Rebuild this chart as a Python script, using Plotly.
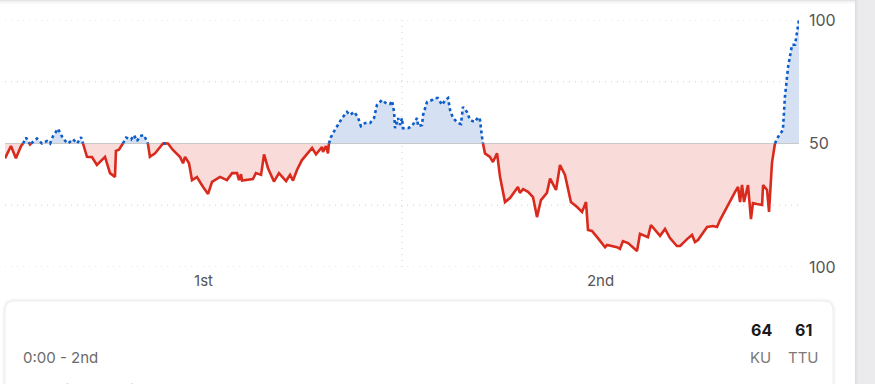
import plotly.graph_objects as go

# Game time (minutes elapsed) and KU win probability (%)
minutes = [0.00, 0.30, 0.55, 0.81, 0.91, 1.06, 1.26, 1.61, 1.86, 2.12, 2.27, 2.42, 2.67, 2.92, 3.17,
           3.43, 3.63, 3.83, 3.93, 4.13, 4.38, 4.63, 5.04, 5.29, 5.54, 5.59, 5.74, 5.94, 6.10, 6.35,
           6.50, 6.65, 6.80, 7.00, 7.20, 7.30, 7.56, 7.96, 8.21, 8.46, 8.82, 8.97, 9.07, 9.27, 9.42,
           9.67, 9.97, 10.23, 10.43, 10.83, 11.18, 11.44, 11.69, 11.79, 11.89, 11.94, 12.49, 12.64,
           12.90, 13.05, 13.25, 13.55, 13.80, 14.16, 14.36, 14.51, 14.71, 14.96, 15.47, 15.67, 15.97,
           16.02, 16.17, 16.27, 16.32, 16.42, 16.62, 16.98, 17.23, 17.38, 17.58, 17.78, 17.93, 18.14,
           18.39, 18.59, 18.74, 18.99, 19.24, 19.40, 19.50, 19.60, 19.65, 19.80, 19.90, 20.00, 20.05,
           20.30, 20.50, 20.65, 20.76, 20.81, 21.01, 21.06, 21.26, 21.51, 21.66, 21.81, 22.02, 22.17,
           22.32, 22.42, 22.57, 22.82, 22.97, 23.07, 23.27, 23.43, 23.68, 23.83, 23.93, 24.03, 24.08,
           24.18, 24.43, 24.58, 24.79, 24.94, 25.19, 25.44, 25.84, 25.94, 26.10, 26.35, 26.60, 26.80,
           27.00, 27.30, 27.46, 27.76, 27.96, 28.21, 28.51, 28.82, 29.07, 29.27, 29.37, 29.57, 29.87,
           30.23, 30.33, 30.63, 30.83, 30.98, 31.13, 31.39, 31.84, 31.99, 32.39, 32.54, 32.75, 33.00,
           33.25, 33.50, 33.85, 34.01, 34.36, 34.61, 34.76, 34.91, 35.37, 35.67, 35.87, 36.02, 36.78,
           36.93, 37.03, 37.13, 37.23, 37.43, 37.58, 37.68, 37.88, 38.14, 38.19, 38.39, 38.49, 38.64,
           38.79, 38.94, 39.19, 39.29, 39.45, 39.65, 39.80, 39.90, 40.00]
ku_prob = [44.0, 49.0, 44.0, 49.0, 50.0, 52.4, 49.6, 52.0, 50.0, 51.0, 50.0, 53.0, 56.0, 52.0, 50.0,
           51.7, 50.0, 52.6, 50.0, 44.6, 44.5, 41.3, 44.6, 38.0, 36.5, 47.0, 47.5, 50.0, 52.4, 51.6,
           53.4, 51.0, 53.0, 53.4, 50.0, 44.6, 46.0, 50.0, 50.0, 47.4, 44.5, 42.0, 44.6, 42.0, 35.2,
           36.4, 32.5, 29.6, 34.5, 36.5, 35.2, 38.0, 38.0, 35.2, 37.6, 35.0, 35.6, 38.0,
           37.3, 45.6, 40.0, 34.6, 38.0, 34.8, 37.3, 35.0, 39.3, 43.3, 48.2, 45.6, 48.6,
           46.6, 49.0, 46.0, 50.0, 52.6, 55.5, 60.3, 62.8, 61.5, 62.8, 60.7, 57.0, 58.3,
           58.3, 60.3, 65.6, 67.6, 66.0, 66.0, 67.3, 62.8, 56.2, 60.3, 57.5, 60.3, 56.2,
           56.2, 57.0, 58.7, 60.3, 57.0, 57.5, 61.5, 66.8, 67.6, 68.4, 68.4, 65.6, 67.6,
           68.4, 63.6, 60.3, 58.3, 57.9, 64.8, 62.8, 59.5, 58.7, 60.7, 59.5, 52.6, 50.0,
           46.0, 44.6, 42.5, 46.0, 36.4, 26.3, 27.9, 32.4, 30.0, 31.5, 30.4, 28.3, 20.2,
           27.1, 30.0, 35.8, 31.2, 41.3, 37.3, 26.3, 24.3, 22.3, 26.3, 15.0, 14.6, 11.7,
           8.0, 8.9, 8.5, 8.0, 7.3, 10.5, 9.7, 6.5, 13.4, 12.1, 17.0, 15.0, 12.6,
           15.4, 11.7, 8.5, 8.5, 11.3, 13.0, 10.1, 10.9, 16.2, 16.6, 16.2, 19.0, 30.4,
           32.4, 26.3, 33.2, 26.3, 33.2, 19.4, 25.9, 25.5, 25.1, 33.2, 31.2, 22.3, 42.3,
           50.0, 52.6, 55.5, 68.8, 81.0, 90.0, 90.0, 94.7, 100.0]

x_tick_vals = [10, 30]
x_tick_text = ["1st", "2nd"]
y_tick_vals = [0, 50, 100]
y_tick_text = ["100", "50", "100"]
home_abbr, away_abbr = "KU", "TTU"
home_score, away_score = "64", "61"
clock_text = "0:00 - 2nd"
status_text = "End of 2nd Half"

BASE = 50.0
RED = "#d92a1e"
BLUE = "#0c5ccb"
RED_FILL = "#f9dcd9"
BLUE_FILL = "#d5e1f2"

# insert crossing points at the 50 line
xs, ys = [], []
for i in range(len(minutes)):
    if i > 0:
        y0, y1 = ku_prob[i - 1], ku_prob[i]
        if (y0 - BASE) * (y1 - BASE) < 0:
            x0, x1 = minutes[i - 1], minutes[i]
            xc = x0 + (BASE - y0) * (x1 - x0) / (y1 - y0)
            xs.append(xc)
            ys.append(BASE)
    xs.append(minutes[i])
    ys.append(ku_prob[i])

red_fill = [min(v, BASE) for v in ys]
blue_fill = [max(v, BASE) for v in ys]
red_line = [v if v <= BASE else None for v in ys]
blue_line = [v if v >= BASE else None for v in ys]
base_line = [BASE] * len(xs)

fig = go.Figure()
fig.add_trace(go.Scatter(x=xs, y=base_line, mode="lines", line=dict(width=0), hoverinfo="skip", showlegend=False))
fig.add_trace(go.Scatter(x=xs, y=red_fill, mode="lines", line=dict(width=0), fill="tonexty",
                         fillcolor=RED_FILL, hoverinfo="skip", showlegend=False))
fig.add_trace(go.Scatter(x=xs, y=base_line, mode="lines", line=dict(width=0), hoverinfo="skip", showlegend=False))
fig.add_trace(go.Scatter(x=xs, y=blue_fill, mode="lines", line=dict(width=0), fill="tonexty",
                         fillcolor=BLUE_FILL, hoverinfo="skip", showlegend=False))
# 50 line
fig.add_trace(go.Scatter(x=[0, 40], y=[BASE, BASE], mode="lines", line=dict(color="#c9c9c9", width=1.2),
                         hoverinfo="skip", showlegend=False))
fig.add_trace(go.Scatter(x=xs, y=red_line, mode="lines", line=dict(color=RED, width=2.6),
                         connectgaps=False, showlegend=False, name=away_abbr))
fig.add_trace(go.Scatter(x=xs, y=blue_line, mode="lines", line=dict(color=BLUE, width=2.6, dash="dot"),
                         connectgaps=False, showlegend=False, name=home_abbr))

W, H = 875, 384
L, R, T, B = 5, 799, 20, 267


def px(xp):
    return (xp - L) / (R - L)


def py(yp):
    return (B - yp) / (B - T)


shapes = []
# dotted gridlines
for gv in [0, 25, 75, 100]:
    shapes.append(dict(type="line", xref="paper", yref="y", x0=0, x1=px(801), y0=gv, y1=gv,
                       line=dict(color="#cfcfcf", width=1, dash="1px,5px"), layer="below"))
shapes.append(dict(type="line", xref="x", yref="y", x0=20, x1=20, y0=0, y1=100,
                   line=dict(color="#cfcfcf", width=1, dash="1px,5px"), layer="below"))
# top shadow
for i, op in enumerate([0.10, 0.06, 0.035, 0.015]):
    shapes.append(dict(type="rect", xref="paper", yref="paper", x0=px(0), x1=px(855),
                       y0=py(i), y1=py(i + 1), fillcolor=f"rgba(0,0,0,{op})", line=dict(width=0)))
# right gray strip with a soft inner shadow on its left edge
shapes.append(dict(type="rect", xref="paper", yref="paper", x0=px(855), x1=px(876),
                   y0=py(385), y1=py(-1), fillcolor="#ebebee", line=dict(width=0)))
for i, op in enumerate([0.06, 0.035, 0.015]):
    shapes.append(dict(type="rect", xref="paper", yref="paper", x0=px(855 + i), x1=px(856 + i),
                       y0=py(385), y1=py(-1), fillcolor=f"rgba(0,0,0,{op})", line=dict(width=0)))


def rounded_rect(x0, y0, x1, y1, r):
    X0, X1 = px(x0), px(x1)
    Y0, Y1 = py(y0), py(y1)
    rx = r / (R - L)
    ry = r / (B - T)
    return (f"M {X0},{Y1} L {X0},{Y0 - ry} Q {X0},{Y0} {X0 + rx},{Y0} "
            f"L {X1 - rx},{Y0} Q {X1},{Y0} {X1},{Y0 - ry} L {X1},{Y1} Z")


# card shadow
for i, op in enumerate([0.025, 0.02, 0.015]):
    d = i + 1
    shapes.append(dict(type="path", xref="paper", yref="paper",
                       path=rounded_rect(5 - d, 301 - d, 833 + d, 400, 10 + d),
                       fillcolor=f"rgba(0,0,0,{op})", line=dict(width=0)))
shapes.append(dict(type="path", xref="paper", yref="paper", path=rounded_rect(5, 301, 833, 400, 10),
                   fillcolor="#ffffff", line=dict(color="#f0f0f0", width=1)))

FONT = "Inter, Roboto, Arial, sans-serif"
annotations = [
    dict(x=px(761), y=py(330), text=f"<b>{home_score}</b>", font=dict(size=16, color="#1a1a1a", family=FONT)),
    dict(x=px(803), y=py(330), text=f"<b>{away_score}</b>", font=dict(size=16, color="#1a1a1a", family=FONT)),
    dict(x=px(760), y=py(357), text=home_abbr, font=dict(size=15, color="#7a7a7a", family=FONT)),
    dict(x=px(803), y=py(357), text=away_abbr, font=dict(size=15, color="#7a7a7a", family=FONT)),
    dict(x=px(21), y=py(357), text=clock_text, xanchor="left", font=dict(size=15, color="#6a6a6a", family=FONT)),
    dict(x=px(21), y=py(379), text=status_text, xanchor="left", yanchor="top",
         font=dict(size=15, color="#6a6a6a", family=FONT)),
]
for a in annotations:
    a.setdefault("xanchor", "center")
    a.setdefault("yanchor", "middle")
    a.update(xref="paper", yref="paper", showarrow=False)

fig.update_layout(
    width=W, height=H,
    margin=dict(l=L, r=W - R, t=T, b=H - B, pad=0),
    paper_bgcolor="#ffffff", plot_bgcolor="rgba(0,0,0,0)",
    shapes=shapes, annotations=annotations,
    showlegend=False,
    xaxis=dict(range=[0, 40], showgrid=False, zeroline=False, showline=False,
               tickvals=x_tick_vals, ticktext=x_tick_text, ticks="", ticklabelstandoff=3,
               tickfont=dict(size=15, color="#555555", family=FONT), fixedrange=True),
    yaxis=dict(range=[0, 100], side="right", showgrid=False, zeroline=False, showline=False,
               tickvals=y_tick_vals, ticktext=y_tick_text, ticks="", ticklabelstandoff=9,
               tickfont=dict(size=16, color="#555555", family=FONT), fixedrange=True),
)

fig.write_html("out.html", config={"displayModeBar": False})
